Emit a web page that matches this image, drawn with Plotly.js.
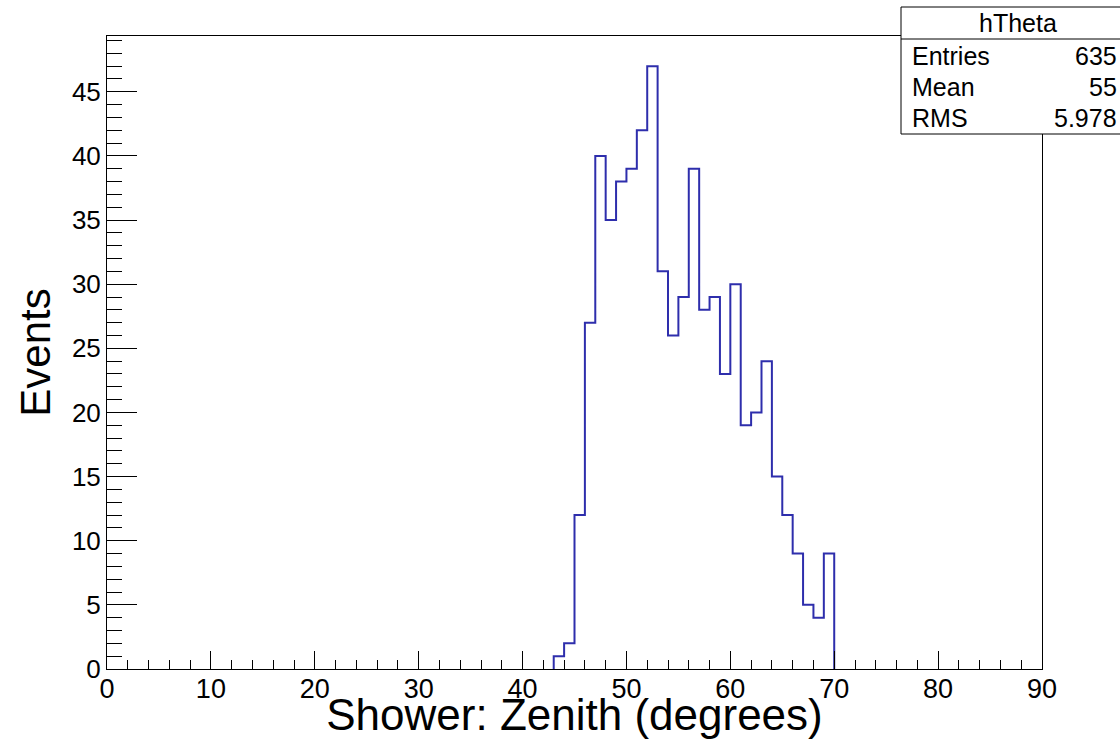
<!DOCTYPE html>
<html>
<head>
<meta charset="utf-8">
<script src="https://cdn.plot.ly/plotly-3.0.1.min.js"></script>
<style>html,body{margin:0;padding:0;background:#fff;}#chart{width:1120px;height:739px;}</style>
</head>
<body>
<div id="chart"></div>
<script>
// ---- data (hTheta histogram, bin width 1 degree) ----
var binLowEdges = [43,44,45,46,47,48,49,50,51,52,53,54,55,56,57,58,59,60,61,62,63,64,65,66,67,68,69];
var binCounts   = [1,2,12,27,40,35,38,39,42,47,31,26,29,39,28,29,23,30,19,20,24,15,12,9,5,4,9];
var binWidth = 1;
var histName = "hTheta";
var statLabels = ["Entries", "Mean", "RMS"];
var statValues = ["635", "55", "5.978"];
var xTitle = "Shower: Zenith (degrees)";
var yTitle = "Events";

// ---- build step outline from the bins ----
var sx = [binLowEdges[0]], sy = [0];
for (var i = 0; i < binLowEdges.length; i++) { sx.push(binLowEdges[i]); sy.push(binCounts[i]); }
var lastEdge = binLowEdges[binLowEdges.length - 1] + binWidth;
sx.push(lastEdge); sy.push(binCounts[binCounts.length - 1]);
sx.push(lastEdge); sy.push(0);

var W = 1120, H = 739, L = 107, R = 78, T = 36, B = 70;
var pw = W - L - R, ph = H - T - B;
function px(x) { return (x - L) / pw; }
function py(y) { return (H - B - y) / ph; }

var font = "Liberation Sans, Arial, Helvetica, sans-serif";
var yMax = Math.max.apply(null, binCounts) * 1.05;

var trace = {
  x: sx, y: sy, type: "scatter", mode: "lines",
  line: { shape: "hv", color: "#2e2eac", width: 2 },
  hoverinfo: "skip", showlegend: false
};

var annotations = [{
  xref: "paper", yref: "paper", x: px(1018), y: py(23), xanchor: "center", yanchor: "middle",
  text: histName, showarrow: false, font: { family: font, size: 25, color: "#000" }
}];
var rowY = [56, 87, 118];
for (var k = 0; k < statLabels.length; k++) {
  annotations.push({ xref: "paper", yref: "paper", x: px(910), y: py(rowY[k]), xanchor: "left", yanchor: "middle",
    text: statLabels[k], showarrow: false, font: { family: font, size: 25, color: "#000" } });
  annotations.push({ xref: "paper", yref: "paper", x: px(1119), y: py(rowY[k]), xanchor: "right", yanchor: "middle",
    text: statValues[k], showarrow: false, font: { family: font, size: 25, color: "#000" } });
}

var shapes = [
  { type: "rect", xref: "paper", yref: "paper", x0: px(901), x1: px(1140), y0: py(134), y1: py(7),
    line: { color: "#000", width: 1 }, fillcolor: "#fff", layer: "above" },
  { type: "line", xref: "paper", yref: "paper", x0: px(901), x1: px(1140), y0: py(39), y1: py(39),
    line: { color: "#000", width: 1 }, layer: "above" }
];

var layout = {
  width: W, height: H,
  margin: { l: L, r: R, t: T, b: B, pad: 0 },
  paper_bgcolor: "#fff", plot_bgcolor: "#fff",
  showlegend: false,
  font: { family: font, color: "#000" },
  xaxis: {
    range: [0, 90], tick0: 0, dtick: 10, ticks: "inside", ticklen: 18, tickwidth: 1, tickcolor: "#000",
    minor: { dtick: 2, ticks: "inside", ticklen: 9, tickwidth: 1, tickcolor: "#000", showgrid: false },
    showgrid: false, zeroline: false, showline: true, linecolor: "#000", linewidth: 1, mirror: true,
    tickfont: { family: font, size: 27, color: "#000" }, ticklabelstandoff: -4,
    title: { text: xTitle, font: { family: font, size: 44, color: "#000" }, standoff: 0 },
    automargin: false, fixedrange: true
  },
  yaxis: {
    range: [0, yMax], tick0: 0, dtick: 5, ticks: "inside", ticklen: 30, tickwidth: 1, tickcolor: "#000",
    minor: { dtick: 1, ticks: "inside", ticklen: 15, tickwidth: 1, tickcolor: "#000", showgrid: false },
    showgrid: false, zeroline: false, showline: true, linecolor: "#000", linewidth: 1, mirror: true,
    tickfont: { family: font, size: 26, color: "#000" }, ticklabelstandoff: 0,
    title: { text: yTitle, font: { family: font, size: 42, color: "#000" }, standoff: 8 },
    automargin: false, fixedrange: true
  },
  shapes: shapes,
  annotations: annotations
};

Plotly.newPlot("chart", [trace], layout, { displayModeBar: false, staticPlot: true });
</script>
</body>
</html>
